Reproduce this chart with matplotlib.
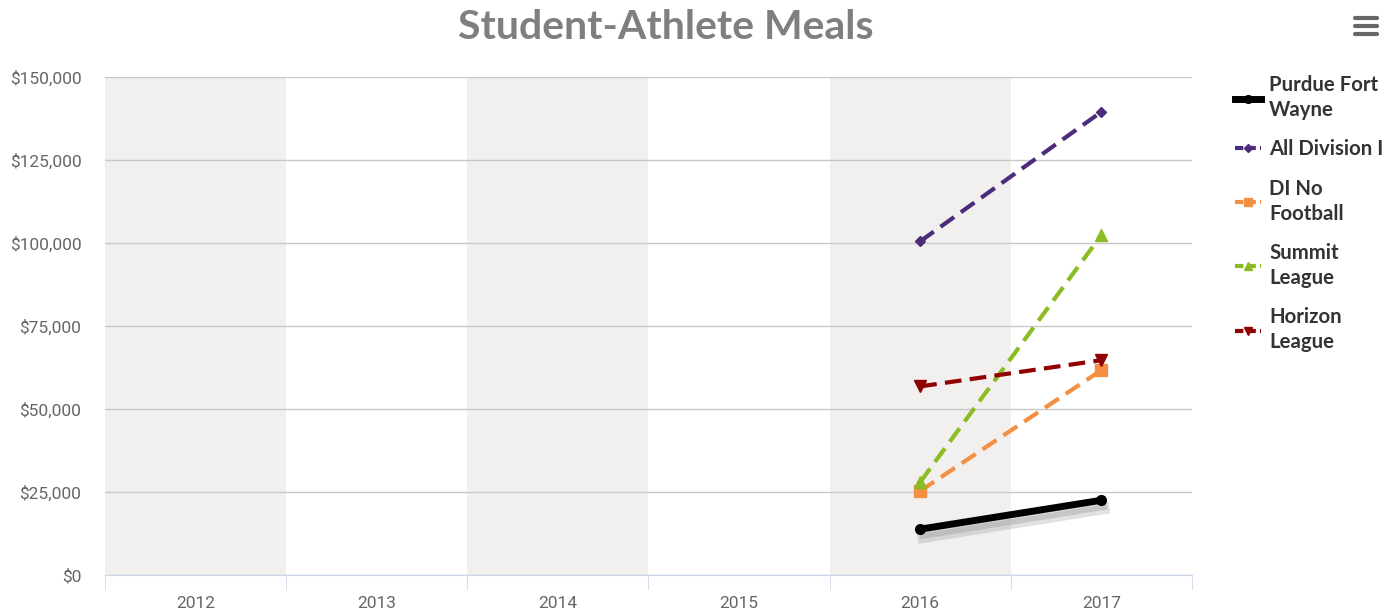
import matplotlib.pyplot as plt
import matplotlib.patheffects as pe
from matplotlib.lines import Line2D
from matplotlib.ticker import FuncFormatter

# chart data
years = ['2012', '2013', '2014', '2015', '2016', '2017']
series_names = ['Purdue Fort\nWayne', 'All Division I', 'DI No\nFootball', 'Summit\nLeague', 'Horizon\nLeague']
purdue = [None, None, None, None, 13800, 22500]
all_d1 = [None, None, None, None, 100500, 139500]
no_football = [None, None, None, None, 25300, 61700]
summit = [None, None, None, None, 28000, 102400]
horizon = [None, None, None, None, 56800, 64700]

plt.rcParams['font.family'] = ['Roboto', 'DejaVu Sans']

fig = plt.figure(figsize=(13.98, 6.12), dpi=100)
ax = fig.add_axes([0.0751, 0.0605, 0.7775, 0.8137])

# alternating bands
for i in range(0, len(years), 2):
    ax.axvspan(i - 0.5, i + 0.5, color='#f2f0ee', zorder=0, lw=0)

x = list(range(len(years)))

def pts(vals):
    xs = [xi for xi, v in zip(x, vals) if v is not None]
    ys = [v for v in vals if v is not None]
    return xs, ys

styles = [
    (purdue, '#000000', 'o', '-', 5, 7),
    (all_d1, '#4b2c7a', 'D', '--', 3, 5),
    (no_football, '#f28f43', 's', '--', 3, 8),
    (summit, '#8bbc21', '^', '--', 3, 8),
    (horizon, '#910000', 'v', '--', 3, 8),
]

handles = []
for (vals, color, marker, ls, lw, ms), name in zip(styles, series_names):
    xs, ys = pts(vals)
    if vals is purdue:
        # soft shadow under the line only
        ax.plot(xs, ys, color='none', lw=lw, zorder=2,
                path_effects=[pe.SimpleLineShadow(offset=(2, -6), shadow_color='#888888', alpha=0.25, linewidth=8),
                              pe.SimpleLineShadow(offset=(2, -5), shadow_color='#888888', alpha=0.3, linewidth=4)])
    ax.plot(xs, ys, color=color, marker=marker, ls=ls, lw=lw, ms=ms, zorder=3,
            dashes=(4, 2) if ls == '--' else (None, None))
    handles.append(Line2D([0], [0], color=color, marker=marker, ls=ls, lw=lw, ms=ms * 0.8,
                          dashes=(2, 1) if ls == '--' else (None, None)))

ax.set_xlim(-0.5, len(years) - 0.5)
ax.set_ylim(0, 150000)
ax.set_yticks(range(0, 150001, 25000))
ax.yaxis.set_major_formatter(FuncFormatter(lambda v, p: '${:,.0f}'.format(v)))
ax.set_xticks(x)
ax.set_xticklabels(years)
ax.set_xticks([i - 0.5 for i in range(len(years) + 1)], minor=True)
ax.grid(axis='y', color='#c8c8c8', lw=1, zorder=1)
ax.set_axisbelow(True)

for s in ['top', 'right', 'left']:
    ax.spines[s].set_visible(False)
ax.spines['bottom'].set_color('#ccd6eb')
ax.tick_params(axis='x', which='major', length=0, colors='#666666', labelsize=12.5, pad=15)
ax.tick_params(axis='x', which='minor', length=10, color='#ccd6eb', direction='out')
ax.tick_params(axis='y', length=0, colors='#666666', labelsize=12.5, pad=17)

fig.text(0.476, 0.955, 'Student-Athlete Meals', ha='center', va='center',
         fontsize=29.5, fontweight='bold', color='#7f7f7f', family=['Lato', 'DejaVu Sans'])

leg = fig.legend(handles, series_names, loc='upper left', bbox_to_anchor=(0.8705, 0.907),
                 frameon=False, handlelength=1.25, handletextpad=0.4, labelspacing=0.95,
                 prop={'family': ['Lato', 'DejaVu Sans'], 'weight': 'bold', 'size': 14.7})
for t in leg.get_texts():
    t.set_color('#333333')
    t.set_linespacing(1.3)

# menu icon
for yy in [0.971, 0.958, 0.945]:
    fig.add_artist(Line2D([0.9695, 0.985], [yy, yy], color='#666666', lw=3, solid_capstyle='round'))

fig.savefig('out.png', dpi=100)
